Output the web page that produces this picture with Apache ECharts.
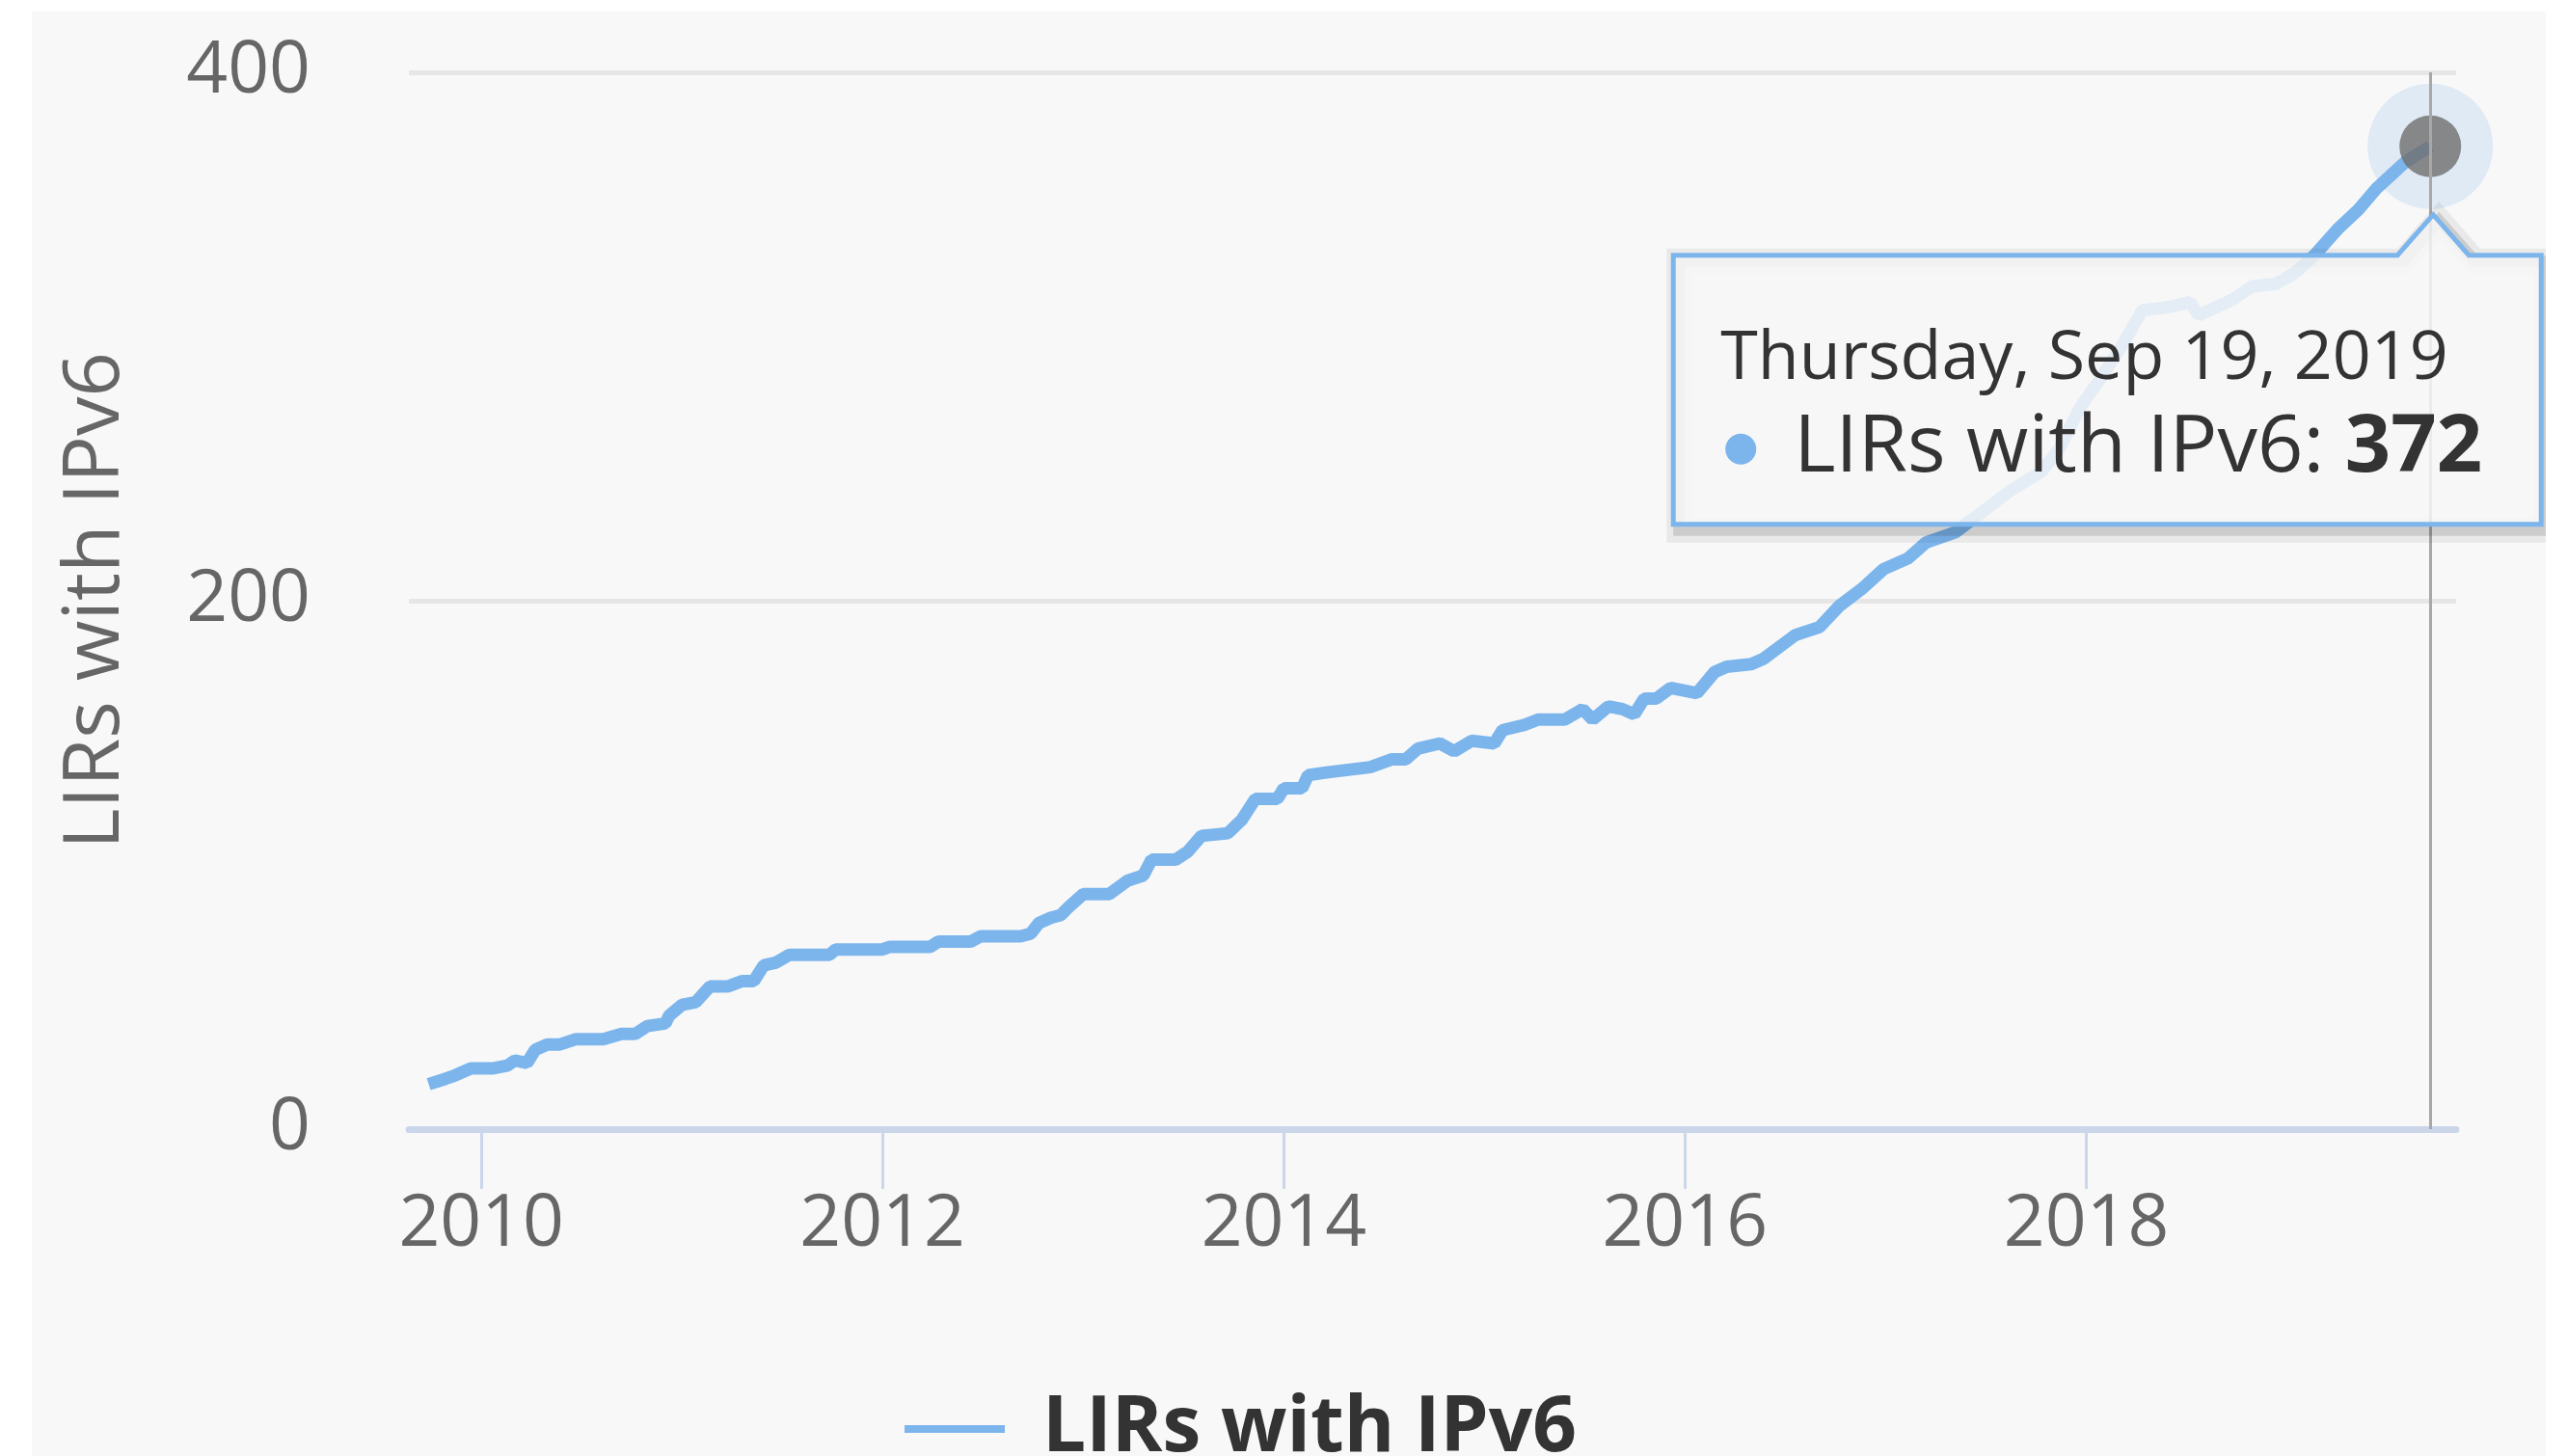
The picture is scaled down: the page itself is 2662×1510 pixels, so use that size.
<!DOCTYPE html>
<html><head><meta charset="utf-8">
<script src="https://cdn.jsdelivr.net/npm/echarts@6/dist/echarts.min.js"></script>
<style>html,body{margin:0;padding:0;background:#fff;width:2662px;height:1510px;overflow:hidden}
#c{position:absolute;left:33px;top:12px;width:2607px;height:1498px}</style>
</head><body><div id="c"></div>
<script>
const seriesName = 'LIRs with IPv6';
const dates = ['2009-09-27','2009-10-27','2009-11-10','2009-12-13','2010-01-23','2010-02-17','2010-03-03','2010-03-25','2010-04-09','2010-05-01','2010-05-23','2010-06-21','2010-08-11','2010-09-13','2010-10-08','2010-10-30','2010-12-02','2010-12-09','2011-01-01','2011-01-26','2011-02-21','2011-03-25','2011-04-20','2011-05-12','2011-05-30','2011-06-21','2011-07-16','2011-09-27','2011-10-08','2012-01-01','2012-01-15','2012-03-28','2012-04-12','2012-06-10','2012-06-28','2012-08-14','2012-09-09','2012-09-27','2012-10-12','2012-11-03','2012-11-21','2012-12-05','2013-01-01','2013-01-26','2013-02-17','2013-03-22','2013-04-20','2013-05-05','2013-06-18','2013-07-10','2013-08-04','2013-09-21','2013-10-16','2013-11-10','2013-12-20','2014-01-01','2014-02-03','2014-02-14','2014-03-19','2014-04-28','2014-06-07','2014-07-17','2014-08-11','2014-09-02','2014-10-12','2014-11-07','2014-12-09','2015-01-19','2015-02-03','2015-03-15','2015-04-09','2015-05-27','2015-06-29','2015-07-17','2015-08-15','2015-09-09','2015-10-01','2015-10-19','2015-11-10','2015-12-06','2016-01-23','2016-02-24','2016-03-17','2016-05-01','2016-05-23','2016-07-20','2016-09-02','2016-10-08','2016-11-21','2016-12-28','2017-02-10','2017-03-15','2017-05-08','2017-06-28','2017-08-18','2017-10-12','2017-11-14','2017-12-20','2018-01-23','2018-03-08','2018-04-13','2018-05-27','2018-07-09','2018-07-24','2018-09-24','2018-10-30','2018-12-13','2019-01-15','2019-02-21','2019-04-05','2019-05-11','2019-06-13','2019-07-09','2019-08-04','2019-09-19'];
const values = [17,19,20,23,23,24,26,25,30,32,32,34,34,36,36,39,40,43,47,48,54,54,56,56,62,63,66,66,68,68,69,69,71,71,73,73,73,74,78,80,81,84,89,89,89,94,96,102,102,105,111,112,117,125,125,129,129,134,135,136,137,140,140,144,146,143,147,146,151,153,155,155,159,155,160,159,157,163,163,167,165,173,175,176,178,187,190,198,205,212,216,222,226,234,242,249,258,273,283,297,310,311,313,308,314,319,320,324,331,341,348,356,361,366,372];
const yTicks = [0, 200, 400];
const xTickYears = [2010, 2012, 2014, 2016, 2018];
const xRange = ['2009-08-22', '2019-11-05'];
const dayNames = ['Sunday','Monday','Tuesday','Wednesday','Thursday','Friday','Saturday'];
const monthNames = ['Jan','Feb','Mar','Apr','May','Jun','Jul','Aug','Sep','Oct','Nov','Dec'];

function parse(s){const p=s.split('-').map(Number);return new Date(p[0],p[1]-1,p[2]).getTime();}
const data = dates.map((d,i)=>[parse(d), values[i]]);
const last = data[data.length-1];
const xTicks = xTickYears.map(y=>new Date(y,0,1).getTime());
const FONT = '"Open Sans", sans-serif';

const chart = echarts.init(document.getElementById('c'));
chart.setOption({
  backgroundColor:'#f8f8f8',
  animation:false,
  textStyle:{fontFamily:FONT},
  grid:{left:391, right:93, top:63, bottom:339},
  xAxis:{type:'value', min:parse(xRange[0]), max:parse(xRange[1]),
    axisLine:{show:true,lineStyle:{color:'#ccd6eb',width:7}},
    axisTick:{show:true,length:62,customValues:xTicks,lineStyle:{color:'#ccd6eb',width:3}},
    axisLabel:{customValues:xTicks, formatter:v=>String(new Date(v).getFullYear()), color:'#666', fontSize:75, margin:62, fontFamily:FONT},
    splitLine:{show:false}},
  yAxis:{type:'value', min:yTicks[0], max:yTicks[yTicks.length-1], interval:yTicks[1]-yTicks[0],
    name:seriesName, nameLocation:'middle', nameGap:284,
    nameTextStyle:{color:'#666', fontSize:81, fontFamily:FONT},
    axisLabel:{color:'#666', fontSize:75, margin:102, fontFamily:FONT, padding:[10,0,0,0]},
    splitLine:{lineStyle:{color:'#e6e6e6', width:5}},
    axisLine:{show:false}, axisTick:{show:false}},
  legend:{data:[seriesName], left:900, top:1425, icon:'rect', itemWidth:104, itemHeight:8,
    textStyle:{color:'#333', fontSize:80, fontWeight:'bold', fontFamily:FONT, padding:[0,0,0,34]}},
  series:[
    {name:seriesName, type:'line', data:data, showSymbol:false, symbol:'none',
      lineStyle:{color:'#7cb5ec', width:13}, itemStyle:{color:'#7cb5ec'}, z:2,
      markLine:{silent:true, symbol:'none', label:{show:false}, animation:false,
        lineStyle:{color:'#a8a8a8', width:3, type:'solid'}, data:[{xAxis:last[0]}]}},
    {type:'scatter', data:[last], symbolSize:130, itemStyle:{color:'rgba(124,181,236,0.25)'}, z:3, silent:true},
    {type:'scatter', data:[last], symbolSize:64, itemStyle:{color:'#6e6e6e'}, z:4, silent:true}
  ]
});

const p = chart.convertToPixel({gridIndex:0}, last);
const L = p[0]-785, R = p[0]+115, T = p[1]+113, B = p[1]+392, ax = p[0]+3, tipY = p[1]+71;
const shape = [[L,T],[ax-37,T],[ax,tipY],[ax+37,T],[R,T],[R,B],[L,B]];
const ld = new Date(last[0]);
const dateText = dayNames[ld.getDay()]+', '+monthNames[ld.getMonth()]+' '+ld.getDate()+', '+ld.getFullYear();
chart.setOption({graphic:[
  {type:'polygon', z:100, silent:true, x:6, y:6, shape:{points:shape}, style:{fill:'none', stroke:'rgba(0,0,0,0.06)', lineWidth:26}},
  {type:'polygon', z:101, silent:true, x:6, y:6, shape:{points:shape}, style:{fill:'none', stroke:'rgba(0,0,0,0.12)', lineWidth:12}},
  {type:'polygon', z:102, silent:true, shape:{points:shape}, style:{fill:'rgba(247,247,247,0.85)', stroke:'#7cb5ec', lineWidth:5}},
  {type:'text', z:103, silent:true, x:p[0]-736, y:p[1]+221, style:{text:dateText, fill:'#333', font:'70px '+FONT, verticalAlign:'middle', align:'left'}},
  {type:'circle', z:103, silent:true, shape:{cx:p[0]-715, cy:p[1]+314, r:16}, style:{fill:'#7cb5ec'}},
  {type:'text', z:103, silent:true, x:p[0]-660, y:p[1]+314, style:{text:'{a|'+seriesName+': }{b|'+last[1]+'}', verticalAlign:'middle', align:'left',
    rich:{a:{fill:'#333', fontSize:83, fontFamily:FONT}, b:{fill:'#333', fontSize:83, fontWeight:'bold', fontFamily:FONT}}}}
]});
</script></body></html>
